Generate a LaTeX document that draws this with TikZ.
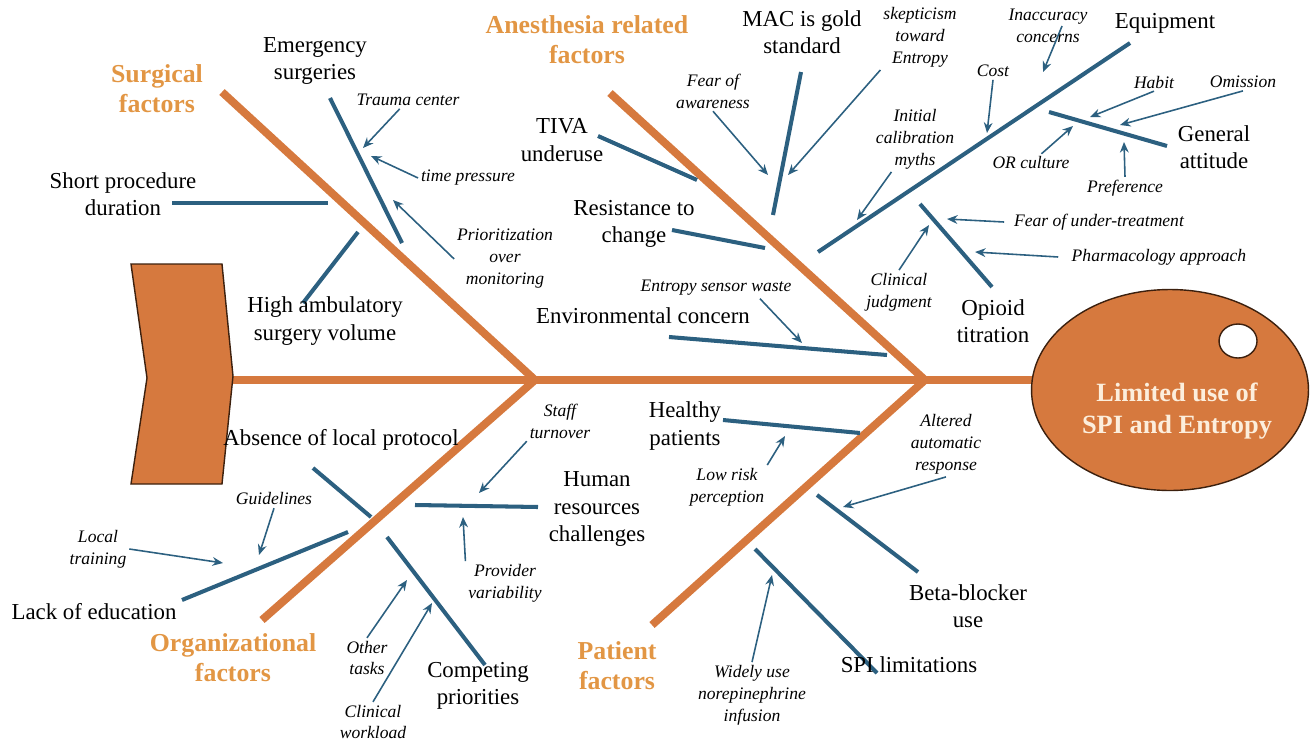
\documentclass[tikz,border=0pt]{standalone}
\usepackage{fontspec}
\setmainfont{Liberation Serif}
\usepackage{xcolor}
\usetikzlibrary{shapes.geometric}
\usetikzlibrary{arrows.meta}

\definecolor{bonecol}{RGB}{214,121,62}
\definecolor{titlecol}{RGB}{226,150,68}
\definecolor{subcol}{RGB}{44,96,128}
\definecolor{edgecol}{RGB}{60,32,14}
\definecolor{headtext}{RGB}{252,238,220}

\tikzstyle{bone} = [draw=bonecol, line width=4.5pt]
\tikzstyle{subbone} = [draw=subcol, line width=2.3pt]
\tikzstyle{hint} = [draw=subcol, line width=0.9pt, -{Stealth[length=6pt,width=5pt]}]
\tikzstyle{cause} = [align=center, inner sep=1pt, font=\fontsize{13}{15.5}\selectfont]
\tikzstyle{note} = [align=center, inner sep=1.5pt, font=\fontsize{10}{12.5}\selectfont\itshape]
\tikzstyle{cattitle} = [align=center, inner sep=1pt, text=titlecol, font=\fontsize{14.7}{17}\selectfont\bfseries]

\begin{document}
\begin{tikzpicture}[x=0.02cm, y=-0.02cm]
    \useasboundingbox (0,0) rectangle (1315,744);

    % spine and main bones
    \coordinate (tailtip) at (233,380);
    \coordinate (headend) at (1040,380);
    \coordinate (j1) at (535,380);
    \coordinate (j2) at (925,380);
    \draw[bone] (tailtip) -- (headend);
    \draw[bone] (222,92) -- (j1);
    \draw[bone] (262,620) -- (j1);
    \draw[bone] (610,93) -- (j2);
    \draw[bone] (652,625) -- (j2);

    % tail and head
    \draw[fill=bonecol, draw=edgecol, line width=0.8pt]
        (131,264) -- (222,264) -- (233,376) -- (222,484) -- (131,484) -- (147,378) -- cycle;
    \node[ellipse, draw=edgecol, fill=bonecol, line width=0.8pt,
        minimum width=5.54cm, minimum height=4.02cm] (effect) at (1170,390) {};
    \draw[fill=white, draw=edgecol, line width=0.8pt] (1238,341) ellipse [x radius=19, y radius=17];
    \node[align=center, text=headtext, font=\fontsize{15}{18}\selectfont\bfseries] (effectlbl) at (1177,411)
        {Limited use of\\SPI and Entropy};

    % category titles
    \node[cattitle] (surg) at (157,89) {Surgical\\factors};
    \node[cattitle] (anes) at (587,40) {Anesthesia related\\factors};
    \node[cattitle] (orga) at (233,658) {Organizational\\factors};
    \node[cattitle] (pati) at (617,666) {Patient\\factors};

    % surgical factors
    \draw[subbone] (330,98) -- (402,243);
    \draw[subbone] (172,203) -- (328,203);
    \draw[subbone] (358,232) -- (303,303);
    \node[cause] (emerg) at (315,61) {Emergency\\surgeries};
    \node[cause] (shortproc) at (123,194) {Short procedure\\duration};
    \node[cause] (highamb) at (325,321) {High ambulatory\\surgery volume};
    \node[note] (trauma) at (408,100) {Trauma center};
    \node[note] (tpress) at (468,178) {time pressure};
    \node[note] (priorit) at (505,259) {Prioritization\\over\\monitoring};

    % anesthesia related factors
    \draw[subbone] (598,136) -- (697,180);
    \draw[subbone] (801,72) -- (773,215);
    \draw[subbone] (672,230) -- (765,248);
    \draw[subbone] (669,337) -- (887,355);
    \draw[subbone] (818,252) -- (1130,43);
    \draw[subbone] (1049,112) -- (1167,146);
    \draw[subbone] (920,204) -- (992,287);
    \node[cause] (tiva) at (562,140) {TIVA\\underuse};
    \node[cause] (mac) at (802,32) {MAC is gold\\standard};
    \node[cause] (resist) at (634,224) {Resistance to\\change};
    \node[cause] (envir) at (643,316) {Environmental concern};
    \node[cause] (equip) at (1165,23) {Equipment};
    \node[cause] (genatt) at (1214,147) {General\\attitude};
    \node[cause] (opioid) at (993,321) {Opioid\\titration};
    \node[note] (fearaw) at (713,91) {Fear of\\awareness};
    \node[note] (skept) at (920,37) {skepticism\\toward\\Entropy};
    \node[note] (sensor) at (716,288) {Entropy sensor waste};
    \node[note] (inacc) at (1048,26) {Inaccuracy\\concerns};
    \node[note] (cost) at (993,71) {Cost};
    \node[note] (calib) at (915,139) {Initial\\calibration\\myths};
    \node[note] (habit) at (1154,82) {Habit};
    \node[note] (omis) at (1243,82) {Omission};
    \node[note] (orcult) at (1031,163) {OR culture};
    \node[note] (pref) at (1125,188) {Preference};
    \node[note] (fearut) at (1099,222) {Fear of under-treatment};
    \node[note] (pharm) at (1159,257) {Pharmacology approach};
    \node[note] (clinj) at (899,292) {Clinical\\judgment};

    % organizational factors
    \draw[subbone] (313,468) -- (371,517);
    \draw[subbone] (182,600) -- (348,532);
    \draw[subbone] (387,537) -- (485,665);
    \draw[subbone] (415,505) -- (538,507);
    \node[cause] (absence) at (341,440) {Absence of local protocol};
    \node[cause] (lackedu) at (94,612) {Lack of education};
    \node[cause] (compet) at (478,686) {Competing\\priorities};
    \node[cause] (humres) at (597,509) {Human\\resources\\challenges};
    \node[note] (guide) at (274,499) {Guidelines};
    \node[note] (ltrain) at (98,549) {Local\\training};
    \node[note] (otask) at (367,658) {Other\\tasks};
    \node[note] (cwork) at (373,722) {Clinical\\workload};
    \node[note] (staff) at (560,421) {Staff\\turnover};
    \node[note] (provv) at (505,583) {Provider\\variability};

    % patient factors
    \draw[subbone] (723,420) -- (860,433);
    \draw[subbone] (817,495) -- (918,572);
    \draw[subbone] (755,549) -- (877,673);
    \node[cause] (healthy) at (685,426) {Healthy\\patients};
    \node[cause] (betabl) at (968,606) {Beta-blocker\\use};
    \node[cause] (spilim) at (909,665) {SPI limitations};
    \node[note] (lowrisk) at (727,487) {Low risk\\perception};
    \node[note] (alt) at (946,444) {Altered\\automatic\\response};
    \node[note] (widely) at (752,695) {Widely use\\norepinephrine\\infusion};

    % arrow targets on the branches
    \coordinate (t-trauma) at (363,148);
    \coordinate (t-tpress) at (371,156);
    \coordinate (t-priorit) at (393,200);
    \coordinate (t-fearaw) at (768,175);
    \coordinate (t-skept) at (788,175);
    \coordinate (t-sensor) at (802,343);
    \coordinate (t-inacc) at (1043,72);
    \coordinate (t-cost) at (987,133);
    \coordinate (t-calib) at (857,220);
    \coordinate (t-habit) at (1090,117);
    \coordinate (t-omis) at (1120,125);
    \coordinate (t-orcult) at (1073,126);
    \coordinate (t-pref) at (1124,142);
    \coordinate (t-fearut) at (947,219);
    \coordinate (t-pharm) at (975,252);
    \coordinate (t-clinj) at (929,225);
    \coordinate (t-guide) at (259,555);
    \coordinate (t-ltrain) at (223,563);
    \coordinate (t-otask) at (407,580);
    \coordinate (t-cwork) at (432,603);
    \coordinate (t-staff) at (479,493);
    \coordinate (t-provv) at (463,517);
    \coordinate (t-lowrisk) at (785,436);
    \coordinate (t-alt) at (843,507);
    \coordinate (t-widely) at (772,575);

    \draw[hint] (trauma) -- (t-trauma);
    \draw[hint] (tpress.west) -- (t-tpress);
    \draw[hint] (priorit.west) -- (t-priorit);
    \draw[hint] (fearaw.south) -- (t-fearaw);
    \draw[hint] (skept.south west) -- (t-skept);
    \draw[hint] ([xshift=25pt]sensor.south) -- (t-sensor);
    \draw[hint] ([xshift=8pt]inacc.center) -- (t-inacc);
    \draw[hint] (cost.south) -- (t-cost);
    \draw[hint] (calib) -- (t-calib);
    \draw[hint] (habit.south) -- (t-habit);
    \draw[hint] (omis.south) -- (t-omis);
    \draw[hint] (orcult) -- (t-orcult);
    \draw[hint] (pref.north) -- (t-pref);
    \draw[hint] ([xshift=-4pt]fearut.west) -- (t-fearut);
    \draw[hint] ([xshift=-6pt]pharm.west) -- (t-pharm);
    \draw[hint] (clinj.north) -- (t-clinj);
    \draw[hint] (guide.south) -- (t-guide);
    \draw[hint] (ltrain.east) -- (t-ltrain);
    \draw[hint] (otask.north) -- (t-otask);
    \draw[hint] (cwork.north) -- (t-cwork);
    \draw[hint] (staff.south west) -- (t-staff);
    \draw[hint] (provv.north west) -- (t-provv);
    \draw[hint] (lowrisk.north east) -- (t-lowrisk);
    \draw[hint] (alt.south) -- (t-alt);
    \draw[hint] (widely.north) -- (t-widely);
\end{tikzpicture}
\end{document}
